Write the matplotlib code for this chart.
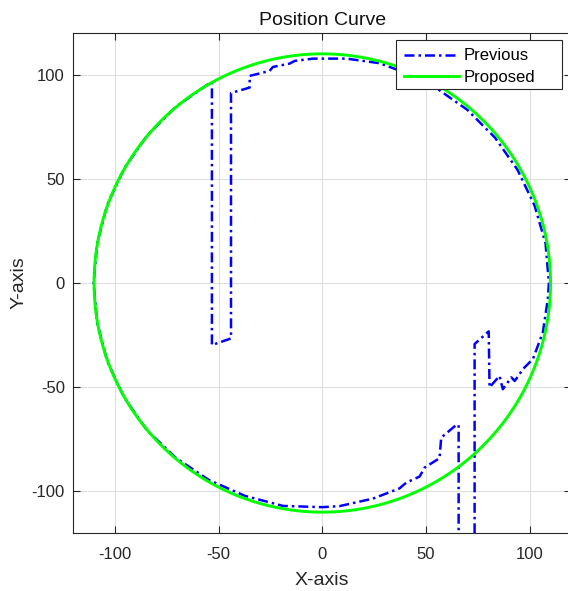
import numpy as np
import matplotlib.pyplot as plt
from matplotlib.patches import Rectangle

plt.rcParams['font.family'] = ['Liberation Sans', 'DejaVu Sans']
plt.rcParams['axes.unicode_minus'] = False

# reference circle (Proposed)
radius = 110
n_pts = 361

# previous trajectory
prev_x = [73.4, 73.4, 80.2, 80.6, 85.4, 87.0, 91.1, 92.7, 94.3, 96.7, 101.5, 106.3,
          108.7, 109.2, 107.6, 102.3, 94.1, 83.2, 69.8, 54.3, 37.1, 27.6,
          21.2, 11.6, -4.5, -13.3, -15.8, -23.8, -25.4, -35.0, -35.0, -44.0,
          -44.0, -53.2, -53.2, -55.1, -70.8, -84.4, -95.4, -103.6, -108.5, -110.2,
          -108.5, -103.6, -95.4, -84.4, -70.5, -54.6, -37.2, -18.9, 0.0,
          8.3, 24.4, 37.2, 40.5, 46.9, 49.3, 56.5, 57.3, 64.6, 65.7, 65.7]
prev_y = [-130.0, -29.3, -23.2, -50.1, -44.6, -51.0, -45.3, -47.0, -44.9, -41.3, -36.5, -23.7,
          -7.6, 0.0, 19.0, 37.2, 54.3, 69.8, 83.2, 94.0, 102.0, 105.5,
          106.4, 107.7, 107.7, 106.6, 105.3, 103.7, 101.8, 99.4, 93.8, 91.2,
          -26.6, -29.8, 96.6, 95.4, 84.4, 70.8, 55.1, 37.7, 19.1, 0.0,
          -19.1, -37.7, -55.1, -70.8, -84.0, -94.6, -102.2, -107.0, -107.6,
          -107.1, -103.5, -98.6, -95.8, -92.9, -88.6, -84.1, -74.2, -68.1, -68.1, -130.0]

ticks = [-100, -50, 0, 50, 100]

theta = np.linspace(0, 2 * np.pi, n_pts)
circ_x = radius * np.cos(theta)
circ_y = radius * np.sin(theta)

fig = plt.figure(figsize=(5.68, 5.91), dpi=100)
ax = fig.add_axes([73.3 / 568, 58 / 591, 498 / 568, 500 / 591])

ax.plot(prev_x, prev_y, color='#0000ff', linestyle=(0, (4, 1.6, 1, 1.6)),
        linewidth=1.8, label='Previous')
ax.plot(circ_x, circ_y, color='#00ff00', linewidth=2.1, label='Proposed')

ax.set_xlim(-120, 120)
ax.set_ylim(-120, 120)
ax.set_xticks(ticks)
ax.set_yticks(ticks)
ax.grid(True, color='#dcdcdc', linewidth=0.7)
ax.set_axisbelow(True)
ax.tick_params(direction='in', length=5, width=0.8, colors='#262626',
               labelsize=12, top=True, right=True, pad=6)
ax.tick_params(axis='x', pad=10)
for s in ax.spines.values():
    s.set_color('#262626')
    s.set_linewidth(0.8)

ax.set_title('Position Curve', fontsize=14, color='#111111', pad=6)
ax.set_xlabel('X-axis', fontsize=14, color='#262626', labelpad=7)
ax.set_ylabel('Y-axis', fontsize=14, color='#262626', labelpad=3)

# legend box (MATLAB style, extra room on the right)
ax.add_patch(Rectangle((396 / 568, (591 - 89) / 591), 166 / 568, 49 / 591,
                       transform=fig.transFigure, facecolor='white',
                       edgecolor='#262626', linewidth=0.8, zorder=5, clip_on=False))
leg = ax.legend(loc='upper left', bbox_to_anchor=(396 / 568, (591 - 41) / 591),
                bbox_transform=fig.transFigure, borderaxespad=0, fontsize=12,
                frameon=False, handlelength=3.3, handletextpad=0.3,
                borderpad=0.45, labelspacing=0.38)
leg.set_zorder(6)

plt.savefig('out.png', dpi=100)
